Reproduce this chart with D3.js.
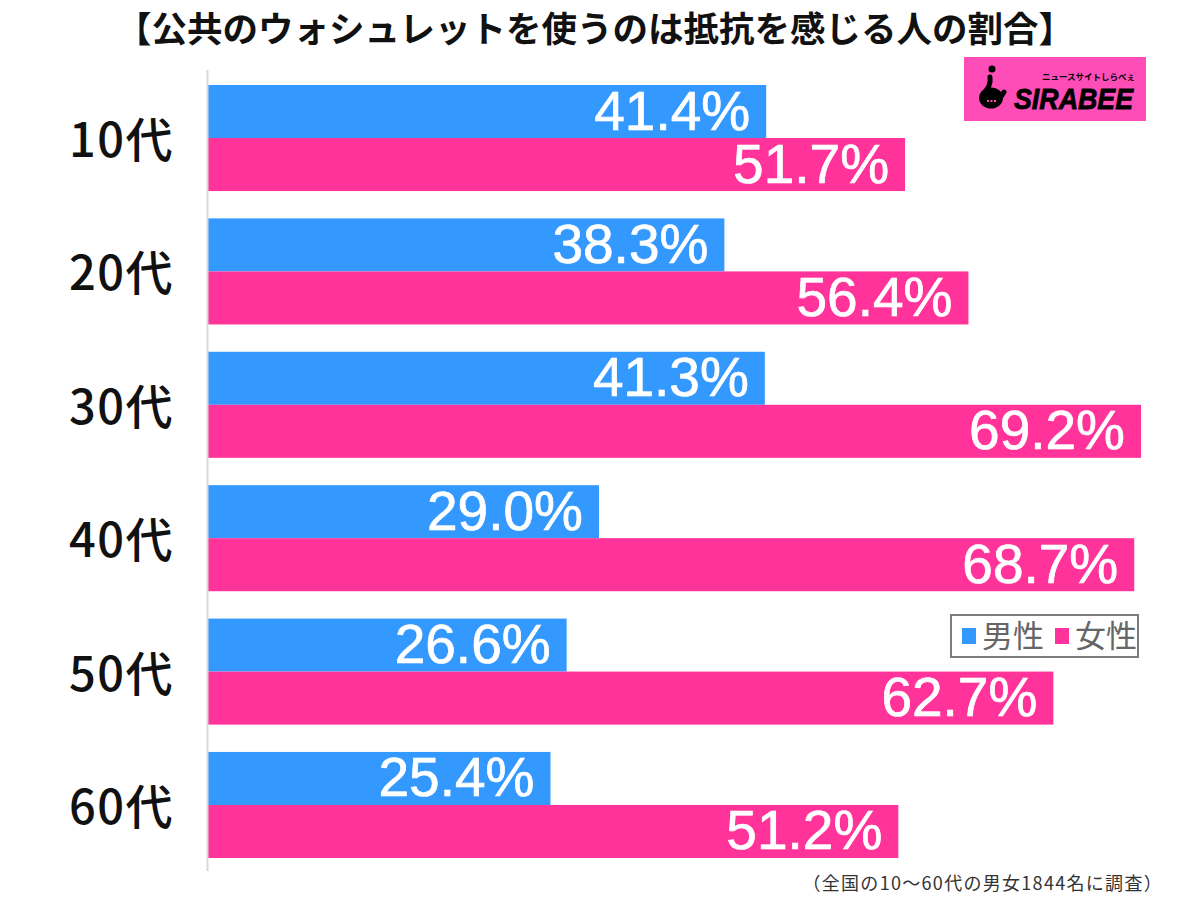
<!DOCTYPE html>
<html>
<head>
<meta charset="utf-8">
<script src="https://cdn.jsdelivr.net/npm/d3@7"></script>
<style>
  html, body { margin: 0; padding: 0; background: #fff; }
  svg { display: block; }
</style>
</head>
<body>
<div id="chart"></div>
<script>
var categories = ["10代", "20代", "30代", "40代", "50代", "60代"];
var seriesNames = ["男性", "女性"];
var maleValues = [41.4, 38.3, 41.3, 29.0, 26.6, 25.4];
var femaleValues = [51.7, 56.4, 69.2, 68.7, 62.7, 51.2];
var seriesColors = ["#3399FF", "#FF3399"];

var titleText = "【公共のウォシュレットを使うのは抵抗を感じる人の割合】";
var noteText = "（全国の10〜60代の男女1844名に調査）";

var jpFont = "'Noto Sans CJK JP', sans-serif";
var numFont = "'Liberation Sans', Arial, sans-serif";

var svg = d3.select("#chart").append("svg")
    .attr("width", 1200)
    .attr("height", 897);

//Scales
var x = d3.scaleLinear().domain([0, 69.2]).range([208, 1141]);
var y = d3.scaleBand().domain(categories).range([85, 858]).paddingInner(0.205);
var ySeries = d3.scaleBand().domain(seriesNames).range([0, y.bandwidth()]);

//Title
svg.append("text")
    .attr("x", 595)
    .attr("y", 42)
    .attr("text-anchor", "middle")
    .attr("font-family", jpFont)
    .attr("font-weight", 700)
    .attr("font-size", 35.5)
    .attr("fill", "#111")
    .text(titleText);

//Bars and value labels, one group per series
[maleValues, femaleValues].forEach(function(values, s) {
    var rows = categories.map(function(c, i) { return {category: c, value: values[i]}; });

    svg.selectAll(".bar" + s)
        .data(rows)
        .enter().append("rect")
        .attr("x", x(0))
        .attr("y", function(d) { return y(d.category) + ySeries(seriesNames[s]); })
        .attr("width", function(d) { return x(d.value) - x(0); })
        .attr("height", ySeries.bandwidth())
        .attr("fill", seriesColors[s]);

    svg.selectAll(".label" + s)
        .data(rows)
        .enter().append("text")
        .attr("x", function(d) { return x(d.value) - 16; })
        .attr("y", function(d) { return y(d.category) + ySeries(seriesNames[s]) + ySeries.bandwidth() / 2 + 18; })
        .attr("text-anchor", "end")
        .attr("font-family", numFont)
        .attr("font-size", 55)
        .attr("fill", "#fff")
        .attr("stroke", "#fff")
        .attr("stroke-width", 0.7)
        .text(function(d) { return d.value.toFixed(1) + "%"; });
});

//Category axis, just the grey line and labels
var axis = svg.append("g")
    .attr("transform", "translate(208,4)")
    .call(d3.axisLeft(y).tickSize(0).tickPadding(34));
axis.select(".domain").remove();
axis.selectAll("text")
    .attr("font-family", jpFont)
    .attr("font-weight", 500)
    .attr("font-size", 47)
    .attr("letter-spacing", 1.5)
    .attr("fill", "#111");
svg.append("line")
    .attr("x1", 207.5).attr("x2", 207.5)
    .attr("y1", 70).attr("y2", 871)
    .attr("stroke", "#d9d9d9")
    .attr("stroke-width", 2);

//Legend
var legend = svg.append("g");
legend.append("rect")
    .attr("x", 951).attr("y", 615)
    .attr("width", 187).attr("height", 42)
    .attr("fill", "#fff")
    .attr("stroke", "#7f7b7b")
    .attr("stroke-width", 2);
var legendSquareX = [962, 1055];
var legendTextX = [982, 1075];
seriesNames.forEach(function(name, i) {
    legend.append("rect")
        .attr("x", legendSquareX[i]).attr("y", 628)
        .attr("width", 14).attr("height", 16)
        .attr("fill", seriesColors[i]);
    legend.append("text")
        .attr("x", legendTextX[i]).attr("y", 647)
        .attr("font-family", jpFont)
        .attr("font-size", 31)
        .attr("fill", "#666")
        .text(name);
});

//Logo
var logo = svg.append("g");
logo.append("rect")
    .attr("x", 964).attr("y", 57)
    .attr("width", 182).attr("height", 64)
    .attr("fill", "#FF4DB8");
logo.append("circle").attr("cx", 992).attr("cy", 69).attr("r", 3.5).attr("fill", "#000");
logo.append("path")
    .attr("d", "M990 77 C991 84 988 88 985 92 M990 99 C997 100 1002 97 1004 92")
    .attr("fill", "none")
    .attr("stroke", "#000")
    .attr("stroke-width", 5)
    .attr("stroke-linecap", "round");
logo.append("ellipse")
    .attr("cx", 991).attr("cy", 98)
    .attr("rx", 12).attr("ry", 10.5)
    .attr("fill", "#000");
logo.append("path")
    .attr("d", "M987 101 H996")
    .attr("stroke", "#FF4DB8")
    .attr("stroke-width", 2)
    .attr("stroke-dasharray", "2 1.5");
logo.append("text")
    .attr("x", 1042).attr("y", 80)
    .attr("font-family", jpFont)
    .attr("font-weight", 700)
    .attr("font-size", 8.5)
    .attr("fill", "#000")
    .text("ニュースサイトしらべぇ");
logo.append("text")
    .attr("x", 1014).attr("y", 109)
    .attr("font-family", numFont)
    .attr("font-weight", 700)
    .attr("font-style", "italic")
    .attr("font-size", 30)
    .attr("textLength", 119)
    .attr("lengthAdjust", "spacingAndGlyphs")
    .attr("fill", "#000")
    .attr("stroke", "#000")
    .attr("stroke-width", 0.8)
    .text("SIRABEE");

//Survey note
svg.append("text")
    .attr("x", 1163)
    .attr("y", 890)
    .attr("text-anchor", "end")
    .attr("font-family", jpFont)
    .attr("font-size", 18)
    .attr("letter-spacing", 1.3)
    .attr("fill", "#333")
    .text(noteText);
</script>
</body>
</html>
